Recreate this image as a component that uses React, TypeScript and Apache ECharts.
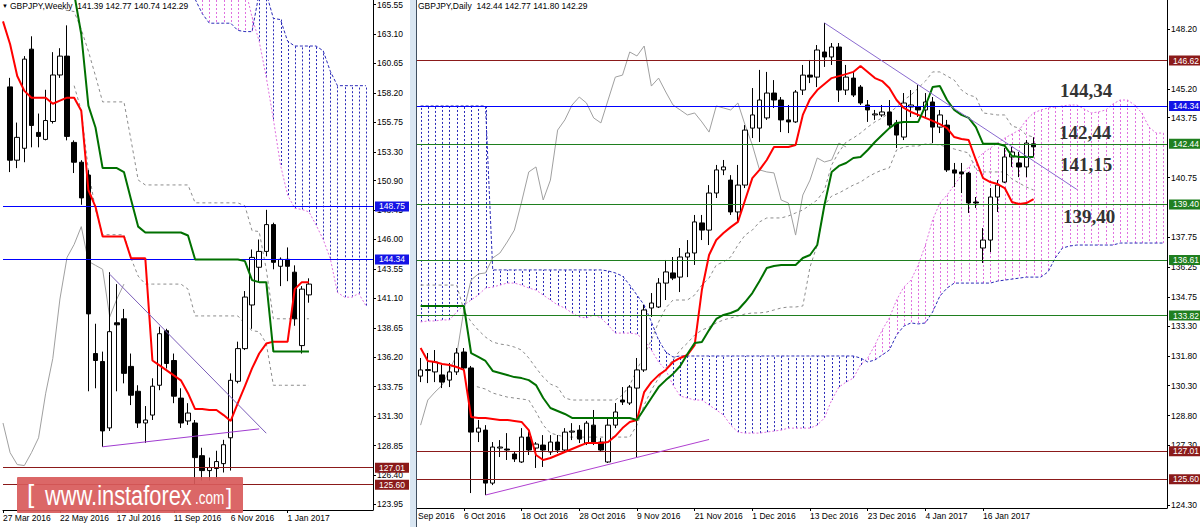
import React, { useEffect, useRef } from "react";
import * as echarts from "echarts";

const FONT = "'Liberation Sans', Arial, sans-serif";
const MONTHS = ["Jan", "Feb", "Mar", "Apr", "May", "Jun", "Jul", "Aug", "Sep", "Oct", "Nov", "Dec"];
const DAY = 86400000;
function fmtDate(t: number) {
  const d = new Date(t);
  return `${d.getUTCDate()} ${MONTHS[d.getUTCMonth()]} ${d.getUTCFullYear()}`;
}

// ---------------- categories ----------------
const weekCategories: string[] = [];
for (let i = 0; i < 53; i++) weekCategories.push(fmtDate(Date.UTC(2016, 2, 27) + i * 7 * DAY));
const dayCategories: string[] = [];
{
  let t = Date.UTC(2016, 8, 28);
  while (dayCategories.length < 104) {
    const wd = new Date(t).getUTCDay();
    if (wd !== 0 && wd !== 6) dayCategories.push(fmtDate(t));
    t += DAY;
  }
}

// ---------------- weekly (left) data ----------------
const weeklyTitle = "GBPJPY,Weekly  141.39 142.77 140.74 142.29";
const weeklyTicks = [165.55, 163.1, 160.65, 158.2, 155.75, 153.3, 150.9, 148.45, 146.0, 143.55, 141.1, 138.65, 136.2, 133.75, 131.3, 128.85, 126.4, 123.95];
const W_CANDLE_START = 1;
// [open, high, low, close]
const weeklyOHLC = [
  [158.7, 159.45, 151.61, 152.6], [152.6, 155.73, 151.94, 154.5], [153.59, 161.26, 152.43, 161.01],
  [161.84, 162.91, 153.67, 155.49], [154.91, 156.48, 153.67, 154.58], [154.33, 158.46, 154.25, 155.9],
  [155.82, 161.59, 155.65, 159.69], [159.69, 161.92, 159.45, 161.26], [161.26, 163.82, 154.25, 154.58],
  [154.08, 154.25, 151.53, 152.43], [152.43, 152.6, 148.89, 149.46], [151.36, 151.77, 133.37, 139.81],
  [136.51, 138.99, 133.62, 135.93], [135.85, 136.67, 128.75, 130.07], [130.32, 143.28, 130.07, 138.33],
  [139.07, 142.29, 133.37, 138.9], [139.4, 140.22, 134.03, 134.86], [135.44, 136.51, 132.22, 133.04],
  [133.37, 133.87, 130.32, 130.73], [130.73, 132.14, 129.08, 130.98], [131.39, 134.45, 130.98, 133.79],
  [133.87, 138.74, 133.46, 138.16], [138.41, 138.57, 135.27, 135.68], [135.93, 136.51, 132.38, 132.96],
  [132.8, 133.62, 130.32, 130.73], [130.9, 132.38, 130.57, 131.56], [130.73, 130.98, 125.62, 127.85],
  [128.01, 128.67, 125.95, 126.77], [126.77, 127.85, 125.95, 127.02], [126.94, 128.42, 126.03, 127.52],
  [127.35, 129.33, 126.61, 128.92], [129.5, 134.86, 126.77, 134.28], [134.2, 137.5, 134.03, 136.92],
  [136.92, 141.71, 136.8, 141.21], [140.55, 145.17, 138.57, 144.51], [143.69, 146.0, 142.45, 145.01],
  [145.01, 148.47, 144.6, 147.24], [147.24, 147.4, 143.52, 144.1], [143.77, 144.51, 142.12, 144.35],
  [144.35, 145.34, 142.53, 143.77], [143.28, 143.85, 138.82, 139.4], [137.17, 142.12, 136.51, 141.87],
  [141.39, 142.77, 140.74, 142.29],
];
const weeklyTenkan = [
  164.15, 162.25, 159.61, 158.37, 157.8, 157.8, 157.8, 157.3, 157.55, 157.8,
  157.8, 156.72, 150.12, 148.72, 146.25, 146.25, 146.25, 146.25, 144.43, 144.43,
  144.43, 135.93, 135.52, 135.11, 134.69, 134.28, 133.21, 131.89, 131.89, 131.81,
  131.81, 131.39, 130.9, 132.38, 133.79, 135.27, 136.51, 137.34, 137.5, 137.5,
  137.5, 141.87, 142.45, 142.45,
];
const weeklyKijun = [
  170.5, 170.5, 170.5, 170.5, 170.5, 170.5, 170.5, 170.5, 170.5, 169.0,
  166.46, 163.08, 157.14, 155.32, 151.94, 151.94, 151.94, 151.61, 149.3, 147.07,
  146.58, 146.58, 146.58, 146.58, 146.58, 146.58, 146.33, 144.34, 144.34, 144.34,
  144.34, 144.34, 144.34, 144.34, 144.2, 142.62, 142.45, 142.45, 136.67, 136.67,
  136.67, 136.67, 136.67, 136.67,
];
const W_DASH_UP_START = 8;
const weeklyDashUpper = [
  165.22, 165.06, 164.97, 163.49, 161.67, 159.61, 157.45, 157.45, 157.45, 157.45,
  154.25, 150.95, 150.54, 150.54, 150.54, 150.54, 150.54, 150.54, 150.54, 149.05,
  149.05, 149.05, 149.05, 149.05, 149.05, 149.05, 148.8, 146.74, 146.66, 143.52,
  139.4, 139.4, 139.4, 139.4, 139.4, 139.4,
];
const W_DASH_LO_START = 10;
const weeklyDashLower = [
  158.8, 156.72, 151.77, 148.47, 146.4, 146.4, 146.4, 146.4, 144.43, 142.95,
  142.29, 142.29, 142.29, 142.29, 142.29, 142.29, 141.87, 139.64, 139.64, 139.64,
  139.64, 139.64, 139.64, 139.64, 138.99, 138.41, 138.33, 137.34, 133.87, 133.87,
  133.87, 133.87, 133.87, 133.87,
];
const weeklyChikou = [
  130.73, 128.26, 127.27, 127.19, 128.26, 129.5, 133.21, 136.1, 141.05, 144.51,
  145.59, 147.07, 144.18, 143.85, 143.52, 139.56, 141.05, 142.29,
];
const W_CLOUD_START = 27;
const weeklySpanA = [
  168, 168, 168, 168, 168, 168, 168, 167, 164.5, 162.5,
  159.5, 156.0, 152.2, 149.7, 148.6, 148.5, 148.3, 147.2, 146.0, 144.4,
  141.6, 141.2, 141.2, 141.5, 140.5,
];
const weeklySpanB = [
  166.0, 164.8, 164.0, 164.0, 164.0, 164.0, 163.4, 163.3, 163.3, 166.5,
  166.5, 164.4, 164.3, 162.5, 162.1, 162.1, 162.1, 162.1, 161.7, 160.0,
  158.8, 158.8, 158.8, 158.8, 158.8,
];
const weeklyTrendDown = [[15, 143.11], [37, 129.88]];
const weeklyTrendUp = [[14, 128.75], [36, 130.24]];

// ---------------- daily (right) data ----------------
const dailyTitle = "GBPJPY,Daily  142.44 142.77 141.80 142.29";
const dailyTicks = [148.2, 145.2, 143.75, 140.75, 137.75, 136.25, 134.75, 133.3, 131.8, 130.3, 128.8, 127.3, 124.3];
// [open, high, low, close] from 28 Sep 2016
const dailyOHLC = [
  [130.78, 131.69, 130.48, 131.09], [131.06, 131.94, 130.43, 131.11], [130.99, 132.09, 130.48, 131.49],
  [130.84, 131.34, 130.18, 130.48], [130.58, 131.44, 130.23, 130.99], [130.99, 132.19, 130.84, 131.94],
  [131.99, 132.19, 131.09, 131.19], [131.19, 131.29, 124.91, 127.97], [127.97, 128.58, 127.47, 128.17],
  [128.07, 128.32, 124.81, 125.41], [125.41, 127.47, 125.31, 127.22], [127.17, 127.57, 126.72, 127.22],
  [127.12, 127.92, 126.57, 127.07], [126.87, 126.97, 126.47, 126.62], [126.47, 128.17, 126.42, 127.72],
  [127.72, 127.97, 126.82, 127.07], [127.17, 127.47, 126.17, 127.37], [127.32, 127.82, 126.22, 127.07],
  [126.97, 127.82, 126.82, 127.47], [127.47, 127.82, 126.92, 127.07], [127.07, 128.17, 126.97, 127.97],
  [127.97, 128.42, 127.57, 128.02], [128.07, 128.32, 127.42, 127.62], [127.42, 128.53, 127.32, 128.42],
  [128.32, 129.08, 127.32, 127.47], [127.47, 127.67, 126.97, 127.07], [126.47, 128.68, 126.42, 128.32],
  [128.32, 129.43, 128.17, 128.98], [129.58, 130.23, 129.33, 129.48], [129.43, 130.33, 129.33, 130.23],
  [130.18, 131.69, 126.67, 131.09], [131.09, 134.35, 130.99, 134.1], [134.2, 134.95, 133.75, 134.45],
  [134.25, 135.7, 134.2, 135.45], [135.45, 136.61, 134.6, 136.01], [135.96, 136.76, 135.6, 135.7],
  [135.75, 137.21, 135.0, 136.76], [136.76, 137.61, 135.75, 136.96], [136.96, 138.87, 136.36, 138.52],
  [138.47, 138.87, 137.61, 138.11], [138.11, 140.37, 137.36, 139.97], [139.97, 141.38, 139.72, 141.13],
  [141.13, 141.63, 140.87, 141.28], [140.62, 140.87, 138.87, 139.02], [139.02, 141.38, 138.47, 140.37],
  [140.37, 143.38, 140.22, 143.13], [143.23, 145.24, 142.73, 143.89], [143.23, 146.15, 142.53, 144.64],
  [143.74, 146.05, 143.64, 144.99], [144.99, 145.64, 144.24, 144.64], [144.64, 144.79, 143.03, 143.64],
  [143.64, 144.39, 142.98, 143.54], [143.54, 145.14, 143.49, 145.04], [145.14, 146.4, 144.89, 145.89],
  [145.89, 146.65, 145.49, 145.79], [145.79, 147.4, 145.29, 147.15], [147.05, 148.51, 146.3, 146.8],
  [146.8, 147.5, 146.4, 147.3], [147.3, 147.5, 144.54, 145.14], [145.14, 146.4, 144.89, 145.79],
  [145.74, 146.05, 144.79, 144.89], [145.29, 145.39, 144.39, 144.49], [144.39, 144.64, 143.54, 144.14],
  [143.89, 144.14, 143.64, 143.94], [143.89, 144.39, 143.79, 144.04], [144.04, 144.64, 143.23, 143.38],
  [143.49, 143.64, 142.23, 142.88], [142.78, 144.99, 142.63, 144.49], [144.29, 145.14, 143.79, 144.39],
  [144.29, 145.39, 143.79, 144.14], [144.14, 144.99, 143.79, 144.54], [144.54, 144.79, 142.48, 143.28],
  [143.28, 144.14, 142.98, 143.89], [143.38, 143.64, 141.03, 141.13], [141.13, 141.48, 140.27, 140.97],
  [141.03, 141.48, 139.97, 140.93], [140.97, 141.03, 138.97, 139.47], [139.52, 139.77, 139.22, 139.47],
  [137.21, 138.21, 136.46, 137.61], [137.61, 140.22, 137.01, 139.77], [139.77, 140.62, 139.02, 140.37],
  [140.52, 142.23, 140.47, 141.78], [141.78, 142.28, 141.28, 142.03], [141.48, 142.03, 140.77, 141.28],
  [141.28, 142.63, 140.77, 142.48], [142.44, 142.77, 141.8, 142.29],
];
const dailyTenkan = [
  132.19, 131.54, 131.49, 131.39, 131.34, 131.24, 131.09, 128.73, 128.68, 128.68,
  128.63, 128.58, 128.58, 128.53, 128.48, 128.07, 126.82, 126.57, 126.67, 126.82,
  126.97, 127.12, 127.27, 127.42, 127.42, 127.42, 127.47, 127.77, 128.17, 128.48,
  128.58, 129.98, 130.48, 130.83, 131.09, 131.49, 131.69, 131.84, 132.34, 135.1,
  136.86, 137.61, 137.96, 138.26, 138.52, 139.62, 140.72, 141.13, 141.63, 142.28,
  142.28, 142.28, 142.38, 143.89, 144.69, 145.14, 145.44, 145.74, 145.84, 145.94,
  146.05, 146.35, 146.05, 145.74, 145.59, 145.24, 144.64, 144.24, 144.04, 143.89,
  143.74, 143.59, 143.43, 143.23, 142.78, 142.68, 142.63, 141.63, 140.72, 140.52,
  140.42, 140.22, 139.52, 139.42, 139.47, 139.67,
];
const dailyKijun = [
  134.3, 134.3, 134.3, 134.3, 134.3, 134.3, 134.3, 131.94, 131.74, 131.54,
  131.04, 130.94, 130.84, 130.73, 130.68, 130.58, 130.33, 129.68, 129.18, 129.03,
  128.88, 128.68, 128.68, 128.68, 128.68, 128.68, 128.68, 128.68, 128.68, 128.68,
  128.58, 129.13, 129.68, 130.23, 130.58, 130.89, 131.29, 131.89, 132.44, 132.49,
  133.09, 133.65, 133.85, 133.95, 134.1, 134.5, 134.95, 135.55, 136.21, 136.31,
  136.36, 136.36, 136.36, 136.71, 136.86, 137.36, 139.37, 141.03, 141.33, 141.48,
  141.73, 141.78, 142.13, 142.53, 142.88, 143.23, 143.49, 143.54, 143.54, 143.54,
  144.34, 145.29, 145.34, 144.64, 144.14, 143.89, 143.74, 143.28, 142.44, 142.44,
  142.44, 142.34, 141.83, 141.78, 141.78, 141.78,
];
const dailyChikou = [
  128.32, 129.58, 129.98, 130.33, 131.09, 131.84, 134.1, 135.6, 135.91, 135.96,
  136.71, 136.96, 137.51, 138.11, 139.52, 141.03, 141.28, 139.62, 140.62, 143.13,
  143.64, 144.39, 144.79, 144.49, 143.74, 143.49, 144.64, 145.79, 145.89, 147.05,
  146.85, 147.35, 145.34, 145.74, 145.04, 144.39, 144.14, 143.89, 143.99, 143.54,
  143.03, 144.34, 144.24, 144.14, 144.49, 143.38, 142.38, 141.13, 141.03, 140.98,
  139.62, 139.47, 137.86, 139.87, 140.62, 141.73, 141.53, 141.63, 142.48, 142.28,
];
const dailyDashUpper = [
  135.35, 135.35, 135.35, 135.35, 135.35, 135.35, 134.1, 133.5, 133.09, 132.74,
  132.49, 132.39, 132.34, 132.24, 132.09, 131.69, 131.19, 130.73, 130.38, 130.23,
  129.68, 129.58, 129.58, 129.58, 129.58, 129.58, 129.58, 129.58, 129.83, 130.33,
  131.09, 131.84, 132.59, 133.5, 134.2, 134.6, 134.6, 134.6, 134.85, 135.35,
  135.7, 136.36, 136.51, 136.76, 137.36, 137.86, 138.11, 138.52, 138.72, 138.72,
  138.72, 138.82, 138.97, 139.12, 139.37, 139.62, 140.12, 141.38, 142.03, 142.53,
  142.73, 142.98, 143.28, 143.54, 143.74, 143.99, 144.29, 144.64, 144.89, 145.24,
  145.59, 146.05, 146.05, 145.84, 145.64, 145.14, 144.89, 144.79, 143.99, 143.94,
  143.89, 143.89, 143.33, 143.23, 142.88, 142.78,
];
const D_DASH_LO_START = 7;
const dailyDashLower = [
  130.33, 130.23, 130.13, 129.93, 129.83, 129.73, 129.68, 129.63, 129.58, 128.98,
  128.32, 127.92, 127.82, 127.72, 127.72, 127.72, 127.72, 127.72, 127.72, 127.72,
  127.72, 127.72, 127.72, 128.32, 129.33, 130.08, 130.68, 131.19, 131.59, 132.09,
  132.44, 132.84, 133.09, 133.24, 133.45, 133.6, 133.7, 133.8, 133.9, 133.95,
  133.95, 134.0, 134.1, 134.2, 134.25, 134.25, 134.3, 136.26, 137.36, 139.37,
  139.82, 139.97, 140.17, 140.37, 140.52, 140.77, 140.97, 141.13, 141.23, 142.13,
  142.28, 142.33, 142.33, 142.43, 142.43, 142.38, 142.28, 142.18, 142.08, 141.98,
  141.13, 141.03, 141.03, 141.03, 141.03, 140.67, 140.47, 140.27, 140.12,
];
const dailySpanA = [
  133.5, 133.55, 133.55, 133.6, 133.6, 134.0, 134.35, 134.6, 134.85, 135.2,
  135.25, 135.35, 135.45, 135.45, 135.35, 135.2, 135.1, 134.85, 134.6, 134.35,
  134.2, 133.95, 133.75, 133.7, 133.85, 133.7, 133.34, 132.94, 132.94, 132.94,
  132.89, 132.59, 132.09, 131.49, 131.09, 130.33, 129.78, 129.68, 129.58, 129.58,
  129.33, 129.08, 128.83, 128.32, 127.97, 127.92, 127.92, 127.92, 127.97, 128.02,
  128.07, 128.17, 128.17, 128.17, 128.17, 128.32, 128.68, 129.58, 130.23, 130.48,
  130.68, 131.34, 131.69, 132.34, 133.09, 133.7, 134.6, 135.25, 135.6, 136.36,
  137.36, 138.62, 139.47, 139.87, 140.37, 140.87, 141.28, 141.63, 141.98, 142.23,
  142.48, 142.73, 142.93, 143.13, 143.64, 143.99, 144.14, 144.24, 144.29, 144.34,
  144.39, 144.39, 144.19, 143.99, 144.04, 144.14, 144.44, 144.64, 144.64, 144.39,
  143.99, 143.28, 142.98, 142.98,
];
const dailySpanB = [
  144.34, 144.34, 144.34, 144.34, 144.34, 144.34, 144.34, 144.34, 144.34, 144.34,
  136.11, 136.11, 136.11, 136.11, 136.11, 136.11, 136.11, 136.11, 136.11, 136.11,
  136.11, 136.11, 136.11, 136.11, 136.11, 136.11, 136.06, 135.96, 135.8, 135.35,
  134.85, 134.35, 133.5, 132.59, 131.99, 131.74, 131.79, 131.79, 131.79, 131.79,
  131.79, 131.79, 131.79, 131.79, 131.79, 131.79, 131.79, 131.79, 131.79, 131.79,
  131.79, 131.79, 131.79, 131.79, 131.79, 131.79, 131.79, 131.79, 131.79, 131.79,
  131.79, 131.69, 131.49, 131.59, 131.84, 132.09, 132.84, 133.29, 133.45, 133.4,
  133.45, 134.0, 134.8, 135.2, 135.45, 135.45, 135.45, 135.45, 135.45, 135.45,
  135.55, 135.6, 135.65, 135.7, 135.75, 135.75, 135.75, 136.01, 136.71, 137.21,
  137.31, 137.36, 137.36, 137.36, 137.36, 137.36, 137.36, 137.46, 137.46, 137.46,
  137.46, 137.46, 137.46, 137.46,
];
const dailyTrendDown = [[56, 148.51], [91, 140.15]];
const dailyTrendUp = [[9, 124.81], [40, 127.6]];
const dailyNotes = ["144,34", "142,44", "141,15", "139,40"];

// ---------------- colours ----------------
const C_BLUE = "#0000ff";
const C_BLUE_BOX = "#1414e6";
const C_DRED = "#8b1a1a";
const C_GREEN = "#1f7f1f";
const C_RED = "#ff0000";
const C_KIJUN = "#007000";
const C_GRAY = "#a0a0a0";
const C_HATCH_BLUE = "#2a2ab8";
const C_HATCH_PINK = "#e070e0";

// ---------------- helpers ----------------
function seriesFrom(start: number, vals: number[]) {
  return vals.map((v, j) => [start + j, v]);
}
function lineS(data: any[], color: string, width: number, type: any, z: number) {
  return {
    type: "line", data, symbol: "none", silent: true, z, clip: true,
    lineStyle: { color, width, type }, emphasis: { disabled: true },
  };
}
function hatchS(start: number, A: number[], B: number[]) {
  return {
    type: "custom", silent: true, z: 1,
    encode: { x: 0, y: [1, 2] },
    data: A.map((a, j) => [start + j, a, B[j]]),
    renderItem: (params: any, api: any) => {
      const p1 = api.coord([api.value(0), api.value(1)]);
      const p2 = api.coord([api.value(0), api.value(2)]);
      const cs = params.coordSys;
      const top = cs.y, bot = cs.y + cs.height;
      const y1 = Math.max(top, Math.min(bot, p1[1]));
      const y2 = Math.max(top, Math.min(bot, p2[1]));
      const color = api.value(1) > api.value(2) ? C_HATCH_PINK : C_HATCH_BLUE;
      return {
        type: "line",
        shape: { x1: Math.round(p1[0]) + 0.5, y1, x2: Math.round(p1[0]) + 0.5, y2 },
        style: { stroke: color, lineWidth: 1, lineDash: [2, 2] },
      };
    },
  };
}
function hline(value: number, color: string, text?: string, hideLine?: boolean, boxColor?: string) {
  return {
    yAxis: value,
    lineStyle: { color, width: 1, type: "solid", opacity: hideLine ? 0 : 1 },
    label: text
      ? {
          show: true, position: "end", formatter: text, color: "#fff", backgroundColor: boxColor || color,
          padding: [1, 4, 0, 4], fontSize: 8.5, fontFamily: FONT, distance: 2,
        }
      : { show: false },
  };
}
function candleS(data: number[][], start: number, marks: any[]) {
  return {
    type: "candlestick", z: 4, barWidth: 5, silent: true,
    encode: { x: 0, y: [1, 2, 3, 4] },
    data: data.map((r, j) => [start + j, r[0], r[3], r[2], r[1]]),
    itemStyle: { color: "#ffffff", color0: "#000000", borderColor: "#000000", borderColor0: "#000000", borderWidth: 1 },
    markLine: { symbol: ["none", "none"], silent: true, animation: false, data: marks },
  };
}
function axisY(min: number, max: number, ticks: number[]) {
  return {
    type: "value", position: "right", min, max,
    splitLine: { show: false },
    axisLine: { show: true, lineStyle: { color: "#000" } },
    axisTick: { show: true, customValues: ticks, length: 3, lineStyle: { color: "#000" } },
    axisLabel: { customValues: ticks, formatter: (v: number) => v.toFixed(2), fontSize: 8.5, color: "#000", fontFamily: FONT, margin: 4 },
  };
}
function axisX(cats: string[], gap: boolean, show: (i: number) => boolean) {
  return {
    type: "category", data: cats, boundaryGap: gap,
    axisLine: { show: true, lineStyle: { color: "#000" } },
    axisTick: { show: true, interval: (i: number) => show(i), alignWithLabel: true, length: 3, lineStyle: { color: "#000" } },
    axisLabel: { interval: (i: number) => show(i), align: "left", fontSize: 8.5, color: "#000", fontFamily: FONT, margin: 3 },
    splitLine: { show: false },
  };
}
function txt(x: number, y: number, text: string, size: number, extra: any = {}) {
  return {
    type: "text", x, y, silent: true, z: 50, ...extra.el,
    style: { text, fill: "#000", fontSize: size, fontFamily: FONT, verticalAlign: "middle", ...extra.style },
  };
}

function buildLeft(): any {
  const show = (i: number) => i % 8 === 0 && i <= 40;
  return {
    animation: false,
    grid: { left: -2, top: 0, width: 375, height: 510 },
    xAxis: axisX(weekCategories, false, show),
    yAxis: axisY(123.49, 165.93, weeklyTicks),
    series: [
      hatchS(W_CLOUD_START, weeklySpanA, weeklySpanB),
      lineS(seriesFrom(W_CLOUD_START, weeklySpanA), C_HATCH_PINK, 1, [2, 2], 2),
      lineS(seriesFrom(W_CLOUD_START, weeklySpanB), C_HATCH_BLUE, 1, [3, 2], 2),
      lineS(seriesFrom(W_DASH_UP_START, weeklyDashUpper), "#8c8c8c", 1, [3, 3], 3),
      lineS(seriesFrom(W_DASH_LO_START, weeklyDashLower), "#8c8c8c", 1, [3, 3], 3),
      lineS(seriesFrom(0, weeklyChikou), C_GRAY, 1, "solid", 3),
      candleS(weeklyOHLC, W_CANDLE_START, [
        hline(148.75, C_BLUE, "148.75", false, C_BLUE_BOX),
        hline(144.34, C_BLUE, "144.34", false, C_BLUE_BOX),
        hline(142.29, "#000000", "142.29", true),
        hline(127.01, C_DRED, "127.01"),
        hline(125.6, C_DRED, "125.60"),
      ]),
      lineS(seriesFrom(0, weeklyTenkan), C_RED, 2, "solid", 5),
      lineS(seriesFrom(0, weeklyKijun), C_KIJUN, 2, "solid", 5),
      lineS(weeklyTrendDown, "#7a5cb8", 1, "solid", 6),
      lineS(weeklyTrendUp, "#a03cd0", 1, "solid", 6),
    ],
    graphic: [
      txt(2, 6, "\u25BC", 6),
      txt(10, 6, weeklyTitle, 8.5),
      { type: "rect", silent: true, z: 60, shape: { x: 17, y: 477, width: 226, height: 36, r: 1 }, style: { fill: "#d85a5a", opacity: 0.92 } },
      { type: "text", silent: true, z: 61, x: 27, y: 494, style: { text: "[", fill: "#fff", fontSize: 26, fontFamily: FONT, verticalAlign: "middle" } },
      { type: "text", silent: true, z: 61, x: 45, y: 494.5, scaleX: 0.78, style: { text: "www.instaforex", fill: "#fff", fontSize: 28, fontFamily: FONT, verticalAlign: "middle" } },
      { type: "text", silent: true, z: 61, x: 195, y: 497.5, scaleX: 0.75, style: { text: ".com", fill: "#fff", fontSize: 18, fontFamily: FONT, verticalAlign: "middle" } },
      { type: "text", silent: true, z: 61, x: 226, y: 496, style: { text: "]", fill: "#fff", fontSize: 22, fontFamily: FONT, verticalAlign: "middle" } },
    ],
  };
}

function buildRight(): any {
  const show = (i: number) => i % 8 === 6 && i <= 85;
  const noteStyle = { fontSize: 19, fontWeight: "bold", fontFamily: "'Liberation Serif', 'Times New Roman', serif", fill: "#333" };
  return {
    animation: false,
    grid: { left: 0, top: 0, width: 751, height: 508 },
    xAxis: axisX(dayCategories, true, show),
    yAxis: axisY(124.16, 149.66, dailyTicks),
    series: [
      hatchS(0, dailySpanA, dailySpanB),
      lineS(seriesFrom(0, dailySpanA), C_HATCH_PINK, 1, [2, 2], 2),
      lineS(seriesFrom(0, dailySpanB), C_HATCH_BLUE, 1, [3, 2], 2),
      lineS(seriesFrom(0, dailyDashUpper), "#8c8c8c", 1, [3, 3], 3),
      lineS(seriesFrom(D_DASH_LO_START, dailyDashLower), "#8c8c8c", 1, [3, 3], 3),
      lineS(seriesFrom(0, dailyChikou), C_GRAY, 1, "solid", 3),
      candleS(dailyOHLC, 0, [
        hline(146.62, C_DRED, "146.62"),
        hline(144.34, C_BLUE, "144.34", false, C_BLUE_BOX),
        hline(142.29, "#000000", "142.29", true),
        hline(142.44, C_GREEN, "142.44"),
        hline(139.4, C_GREEN, "139.40"),
        hline(136.61, C_GREEN, "136.61"),
        hline(133.82, C_GREEN, "133.82"),
        hline(127.01, C_DRED, "127.01"),
        hline(125.6, C_DRED, "125.60"),
      ]),
      lineS(seriesFrom(0, dailyTenkan), C_RED, 2, "solid", 5),
      lineS(seriesFrom(0, dailyKijun), C_KIJUN, 2, "solid", 5),
      lineS(dailyTrendDown, "#8a6ad0", 1, "solid", 6),
      lineS(dailyTrendUp, "#b040d0", 1, "solid", 6),
    ],
    graphic: [
      txt(1, 6, dailyTitle, 8.5),
      txt(1, 516, "Sep 2016", 8.5),
      txt(643, 90, dailyNotes[0], 19, { style: noteStyle }),
      txt(642, 132, dailyNotes[1], 19, { style: noteStyle }),
      txt(643, 164, dailyNotes[2], 19, { style: noteStyle }),
      txt(646, 216, dailyNotes[3], 19, { style: noteStyle }),
    ],
  };
}

export default function App() {
  const leftRef = useRef<HTMLDivElement>(null);
  const rightRef = useRef<HTMLDivElement>(null);
  useEffect(() => {
    document.body.style.margin = "0";
    const l = echarts.init(leftRef.current as HTMLDivElement, undefined, { renderer: "svg" });
    l.setOption(buildLeft());
    const r = echarts.init(rightRef.current as HTMLDivElement, undefined, { renderer: "svg" });
    r.setOption(buildRight());
    return () => {
      l.dispose();
      r.dispose();
    };
  }, []);
  return (
    <div style={{ position: "fixed", left: 0, top: 0, width: 1200, height: 527, background: "#fff", overflow: "hidden" }}>
      <div ref={leftRef} style={{ position: "absolute", left: 0, top: 0, width: 410, height: 527, overflow: "hidden" }} />
      <div style={{ position: "absolute", left: 410, top: 0, width: 6, height: 527, background: "#d9e6f2" }} />
      <div style={{ position: "absolute", left: 416, top: 0, width: 1, height: 527, background: "#3f4f60" }} />
      <div ref={rightRef} style={{ position: "absolute", left: 417, top: 0, width: 783, height: 527, overflow: "hidden" }} />
    </div>
  );
}
